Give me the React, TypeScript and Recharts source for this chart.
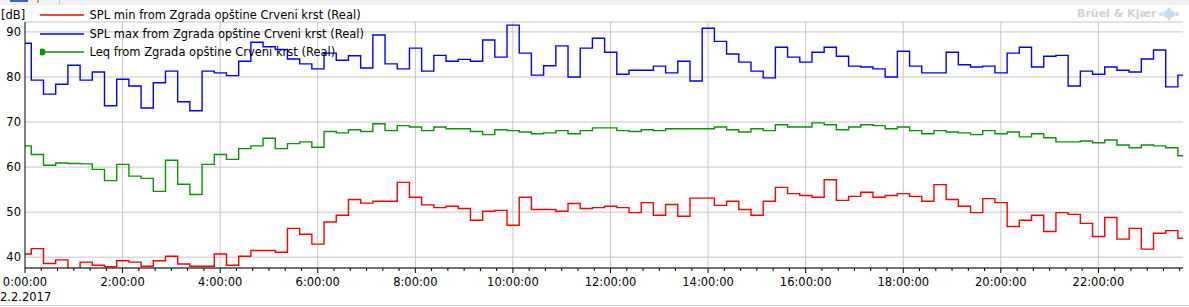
import React from 'react';
import { LineChart, Line, XAxis, YAxis, CartesianGrid, ReferenceLine, Legend } from 'recharts';

const FONT = "'DejaVu Sans', Verdana, sans-serif";

// 15-minute interval values (dB), first interval is a partial one starting at 0:00
const splMin = [
  40.7, 41.9, 38.6, 39.4, 37.0, 38.9, 38.2, 37.9, 39.2, 38.9, 38.0, 39.2, 40.2, 38.5, 38.0, 38.0,
  40.7, 38.2, 40.2, 41.5, 41.5, 41.1, 46.4, 45.1, 42.9, 47.8, 49.3, 52.8, 52.0, 52.4, 52.4, 56.6,
  53.3, 51.6, 51.0, 51.3, 50.8, 48.2, 50.2, 50.4, 47.1, 53.3, 50.6, 50.6, 50.2, 51.9, 50.8, 51.0,
  51.3, 51.0, 49.9, 52.1, 49.3, 51.7, 49.1, 53.1, 53.1, 51.5, 52.4, 50.6, 49.3, 52.4, 55.5, 54.1,
  53.7, 53.3, 57.2, 52.6, 53.5, 54.4, 53.3, 53.7, 54.1, 53.5, 52.4, 56.1, 52.8, 51.3, 49.9, 53.0,
  52.1, 46.8, 48.2, 49.3, 45.7, 49.9, 49.5, 47.5, 44.6, 48.8, 44.0, 46.4, 41.8, 45.3, 45.9, 44.2,
];

const splMax = [
  87.5, 79.3, 76.2, 78.4, 82.6, 79.3, 81.1, 73.6, 79.5, 78.0, 73.1, 78.7, 81.3, 74.5, 72.5, 81.3,
  80.9, 80.3, 83.5, 87.7, 86.7, 86.1, 84.0, 82.9, 81.8, 85.3, 83.7, 84.7, 82.0, 89.3, 82.9, 81.8,
  86.4, 81.3, 84.8, 83.5, 83.9, 83.5, 88.2, 84.4, 91.5, 85.3, 80.4, 82.5, 86.9, 80.0, 86.4, 88.6,
  85.5, 80.6, 81.5, 81.5, 82.4, 80.9, 83.5, 79.1, 90.8, 87.9, 85.1, 83.3, 81.3, 79.8, 86.6, 84.4,
  83.3, 85.5, 86.6, 84.6, 82.4, 82.2, 81.8, 80.0, 85.7, 82.4, 80.9, 80.9, 85.5, 82.7, 82.2, 82.4,
  80.9, 85.3, 86.6, 82.2, 84.6, 84.8, 78.0, 81.3, 80.6, 82.2, 81.5, 81.1, 84.0, 86.0, 77.8, 80.4,
];

const leq = [
  64.7, 62.8, 60.4, 60.9, 60.8, 60.7, 59.5, 57.0, 60.6, 58.0, 57.5, 54.6, 61.5, 56.2, 53.9, 60.6,
  62.8, 61.7, 64.1, 64.7, 66.4, 64.1, 65.2, 65.6, 64.4, 67.9, 67.6, 68.3, 67.9, 69.6, 68.1, 69.2,
  68.9, 68.1, 68.9, 68.5, 68.5, 67.9, 67.2, 68.3, 68.1, 67.8, 67.4, 67.6, 68.1, 67.4, 68.1, 68.7,
  68.7, 68.1, 67.9, 68.3, 68.1, 68.5, 68.5, 68.5, 68.5, 68.9, 68.3, 67.8, 68.5, 68.1, 69.4, 68.9,
  68.9, 69.8, 69.4, 68.3, 68.9, 69.4, 69.2, 68.5, 68.9, 68.1, 67.4, 68.1, 67.8, 67.6, 67.2, 68.1,
  67.4, 67.8, 66.7, 67.4, 66.5, 65.6, 65.6, 65.8, 65.4, 66.0, 64.9, 64.3, 64.9, 64.7, 64.3, 62.5,
];

// time categories in minutes after 0:00 on 2.2.2017
const FIRST_BOUNDARY_MIN = 7.75;
const INTERVAL_MIN = 15;
const END_MIN = 1424;
const startMinutes = [0, ...splMin.slice(1).map((_, k) => FIRST_BOUNDARY_MIN + INTERVAL_MIN * k)];

const yTicks = [40, 50, 60, 70, 80, 90];
const majorTicks = [0, 120, 240, 360, 480, 600, 720, 840, 960, 1080, 1200, 1320];
const MINOR_STEP = 20;
const xTicks = Array.from({ length: Math.floor(END_MIN / MINOR_STEP) + 1 }, (_, i) => i * MINOR_STEP);
const formatTime = (m: number) => `${Math.round(m / 60)}:00:00`;

const series = [
  { key: 'min', name: 'SPL min from Zgrada opštine Crveni krst (Real)', color: '#ff0000', marker: false },
  { key: 'max', name: 'SPL max from Zgrada opštine Crveni krst (Real)', color: '#0000ff', marker: false },
  { key: 'leq', name: 'Leq from Zgrada opštine Crveni krst (Real)', color: '#0a930a', marker: true },
];

const data = startMinutes.map((t, i) => ({ t, min: splMin[i], max: splMax[i], leq: leq[i] }));
data.push({
  t: END_MIN,
  min: splMin[splMin.length - 1],
  max: splMax[splMax.length - 1],
  leq: leq[leq.length - 1],
});

const XTick = (props: any) => {
  const { x, y, payload } = props;
  const v = payload.value as number;
  const major = v % 120 === 0;
  return (
    <g>
      <line x1={x} x2={x} y1={y} y2={y + (major ? 5 : 3)} stroke="#000" strokeWidth={1} />
      {major && (
        <text x={x} y={y + 18} textAnchor="middle" fontSize={11.5} fontFamily={FONT} fill="#000">
          {formatTime(v)}
        </text>
      )}
    </g>
  );
};

const YTick = (props: any) => {
  const { y, payload } = props;
  return (
    <text x={21} y={y} dy={4} textAnchor="end" fontSize={11.5} fontFamily={FONT} fill="#000">
      {payload.value}
    </text>
  );
};

const renderLegend = (props: any) => {
  const payload = ((props && props.payload) || []).slice();
  const order = (e: any) => {
    const idx = series.findIndex((s) => s.name === e.value);
    return idx < 0 ? 99 : idx;
  };
  payload.sort((a: any, b: any) => order(a) - order(b));
  return (
    <div>
      {payload.map((entry: any, i: number) => {
        const def = series.find((s) => s.name === entry.value) || series[i];
        const color = entry.color || def.color;
        return (
          <div key={i} style={{ display: 'flex', alignItems: 'center', height: 18.5 }}>
            <svg width={46} height={10} style={{ display: 'block' }}>
              <line x1={0} x2={44} y1={5} y2={5} stroke={color} strokeWidth={1.3} />
              {def.marker && <circle cx={2} cy={5} r={3.4} fill={color} />}
            </svg>
            <span
              style={{
                marginLeft: 3.5,
                fontSize: 11.5,
                fontFamily: FONT,
                color: '#000',
                whiteSpace: 'nowrap',
                lineHeight: '18.5px',
              }}
            >
              {entry.value}
            </span>
          </div>
        );
      })}
    </div>
  );
};

export default function App() {
  return (
    <div
      style={{
        position: 'absolute',
        left: 0,
        top: 0,
        width: 1189,
        height: 307,
        background: '#fff',
        fontFamily: FONT,
        overflow: 'hidden',
      }}
    >
      {/* window strip on top */}
      <div style={{ position: 'absolute', left: 0, top: 0, width: 1189, height: 5, background: '#f0f0f0' }} />
      <div style={{ position: 'absolute', left: 10, top: 0, width: 18, height: 2, background: '#3a66c8' }} />
      <div style={{ position: 'absolute', left: 37, top: 0, width: 2, height: 3, background: '#c8a060' }} />
      <div style={{ position: 'absolute', left: 59, top: 0, width: 1, height: 5, background: '#c8c8c8' }} />

      <LineChart width={1189} height={307} data={data} margin={{ top: 22, right: 6, bottom: 0, left: 0 }}>
        <CartesianGrid vertical={false} stroke="#c6c6c6" />
        {majorTicks.slice(1).map((t) => (
          <ReferenceLine key={t} x={t} stroke="#c6c6c6" ifOverflow="hidden" />
        ))}
        <XAxis
          dataKey="t"
          type="number"
          domain={[0, END_MIN]}
          ticks={xTicks}
          interval={0}
          height={39}
          tickSize={0}
          tickMargin={0}
          tickLine={false}
          tick={<XTick />}
          axisLine={{ stroke: '#000' }}
          allowDataOverflow
        />
        <YAxis
          domain={[37.6, 92.2]}
          ticks={yTicks}
          width={25}
          tickLine={false}
          tick={<YTick />}
          axisLine={{ stroke: '#000' }}
          allowDataOverflow
        />
        <Legend
          layout="vertical"
          align="center"
          verticalAlign="middle"
          content={renderLegend}
          wrapperStyle={{ left: 40, top: 6, width: 380 }}
        />
        {series.map((s) => (
          <Line
            key={s.key}
            type="stepAfter"
            dataKey={s.key}
            name={s.name}
            stroke={s.color}
            strokeWidth={1.4}
            dot={false}
            activeDot={false}
            isAnimationActive={false}
          />
        ))}
      </LineChart>

      <div style={{ position: 'absolute', left: 1, top: 8, fontSize: 11.5, lineHeight: '14px', color: '#000' }}>[dB]</div>
      <div style={{ position: 'absolute', left: 0, top: 290, fontSize: 11.5, lineHeight: '14px', color: '#000' }}>
        2.2.2017
      </div>
      <div style={{ position: 'absolute', left: 0, top: 305, width: 1189, height: 1, background: '#c8c8c8' }} />

      {/* watermark logo */}
      <div
        style={{
          position: 'absolute',
          left: 1077,
          top: 7,
          fontSize: 11,
          fontWeight: 'bold',
          lineHeight: '14px',
          color: '#d2d2d2',
          whiteSpace: 'nowrap',
        }}
      >
        Brüel &amp; Kjær
      </div>
      <svg style={{ position: 'absolute', left: 1157, top: 7 }} width={24} height={14}>
        <ellipse cx={12} cy={7} rx={6} ry={4} fill="#c8dcf4" />
        <circle cx={4} cy={7} r={2} fill="#c8dcf4" />
        <circle cx={20} cy={7} r={2} fill="#c8dcf4" />
        <circle cx={12} cy={2} r={1.6} fill="#c8dcf4" />
        <circle cx={12} cy={12} r={1.6} fill="#c8dcf4" />
      </svg>
    </div>
  );
}
